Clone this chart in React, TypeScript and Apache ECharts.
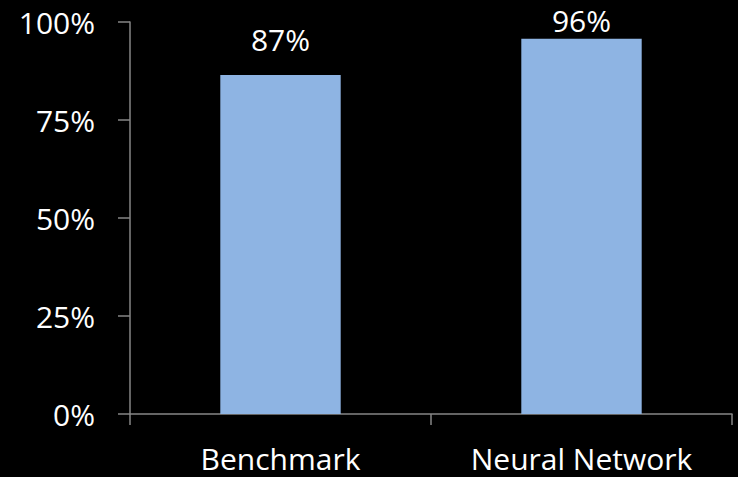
import React, { useEffect, useRef } from "react";
import * as echarts from "echarts";

const categories = ["Benchmark", "Neural Network"];
const values = [0.865, 0.957];
const labelTexts = ["87%", "96%"];
const labelDistances = [20, 3];
const yTicks = [0, 0.25, 0.5, 0.75, 1];

const FONT = "'Open Sans', 'Liberation Sans', sans-serif";
const AXIS = "#868686";

export default function App() {
  const ref = useRef<HTMLDivElement>(null);
  useEffect(() => {
    const chart = echarts.init(ref.current!, null, { renderer: "svg" });
    chart.setOption({
      animation: false,
      backgroundColor: "#000000",
      grid: { left: 130, right: 6, top: 22, bottom: 63, containLabel: false },
      xAxis: {
        type: "category",
        data: categories,
        boundaryGap: true,
        axisLine: { show: true, lineStyle: { color: AXIS, width: 1.5 } },
        axisTick: { show: true, length: 11, lineStyle: { color: AXIS, width: 1.5 } },
        axisLabel: { color: "#ffffff", fontSize: 30, lineHeight: 30, fontFamily: FONT, margin: 29 },
      },
      yAxis: {
        type: "value",
        min: yTicks[0],
        max: yTicks[yTicks.length - 1],
        interval: 0.25,
        axisLine: { show: true, lineStyle: { color: AXIS, width: 1.5 } },
        axisTick: { show: true, length: 12, lineStyle: { color: AXIS, width: 1.5 } },
        splitLine: { show: false },
        axisLabel: {
          color: "#ffffff",
          fontSize: 30,
          lineHeight: 30,
          fontFamily: FONT,
          margin: 35,
          formatter: (v: number) => Math.round(v * 100) + "%",
        },
      },
      series: [
        {
          type: "bar",
          barWidth: "40%",
          itemStyle: { color: "#8EB4E3" },
          data: values.map((v, i) => ({
            value: v,
            label: {
              show: true,
              position: "top",
              distance: labelDistances[i],
              formatter: labelTexts[i],
              color: "#ffffff",
              fontSize: 30,
              lineHeight: 30,
              fontFamily: FONT,
            },
          })),
        },
      ],
    });
    return () => chart.dispose();
  }, []);
  return <div ref={ref} style={{ width: 738, height: 477, position: "fixed", left: 0, top: 0 }} />;
}
